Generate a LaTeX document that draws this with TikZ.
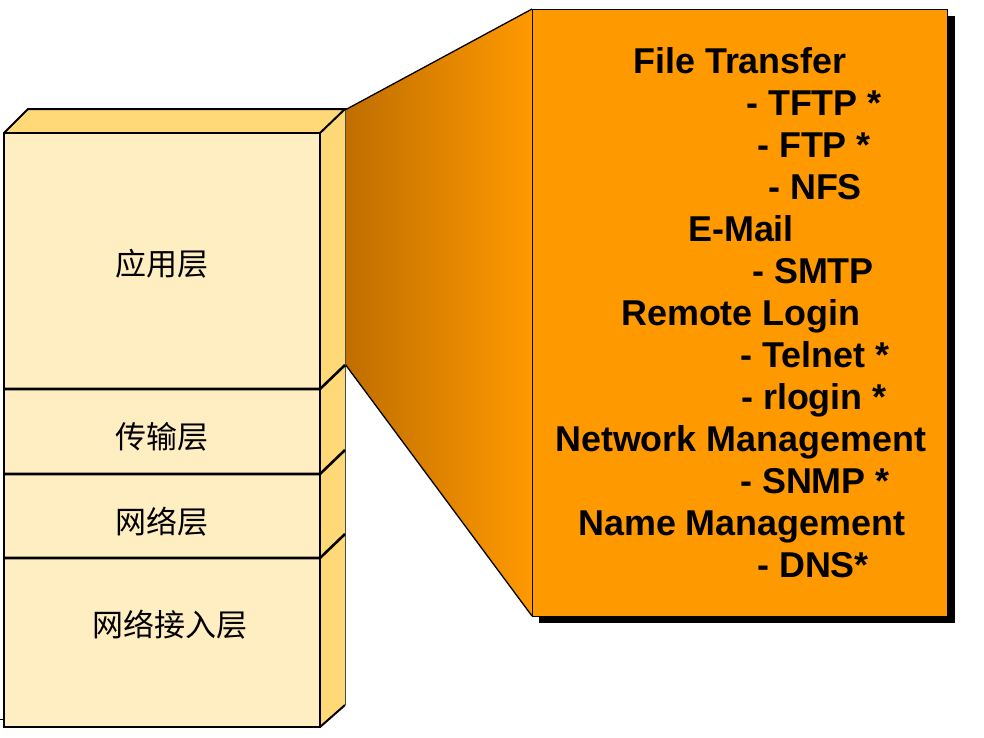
\documentclass[tikz,border=0pt]{standalone}
\usepackage{fontspec}
\setmainfont{Liberation Sans}
\newfontfamily\cjk{Noto Sans CJK SC}
\definecolor{frontc}{HTML}{FFEEC2}
\definecolor{sidec}{HTML}{FFD977}
\definecolor{orng}{HTML}{FF9900}
\definecolor{darkorng}{HTML}{BF6E00}
\tikzset{
  item/.style={anchor=base west, inner sep=0pt, font=\fontsize{35.9}{40}\selectfont\bfseries},
  layertext/.style={anchor=center, inner sep=0pt, font=\cjk\fontsize{31}{36}\selectfont},
  outline/.style={draw=black, line width=2pt, line join=miter},
  divider/.style={draw=black, line width=2.6pt},
}
\begin{document}
\begin{tikzpicture}[x=1pt,y=-1pt]
\useasboundingbox (0,0) rectangle (984,737);
% funnel
\coordinate (ft) at (345,110);
\coordinate (fb) at (345,364);
\coordinate (bt) at (532,9);
\coordinate (bb) at (532,616);
\shade[left color=darkorng, right color=orng] (ft) -- (bt) -- (bb) -- (fb) -- cycle;
\draw[line width=1.3pt] (ft) -- (bt);
\draw[line width=1.3pt] (fb) -- (bb);
% orange box with shadow
\fill[black] (539,16) rectangle (955,623);
\node[draw=black, line width=1pt, fill=orng, minimum width=415pt, minimum height=607pt, inner sep=0pt, anchor=north west] (box) at (532,9) {};
% stack
\coordinate (a) at (4,133);
\coordinate (b) at (320,133);
\coordinate (c) at (320,727);
\coordinate (d) at (4,727);
\coordinate (bl) at (28,109);
\coordinate (br) at (345,109);
\coordinate (sb) at (345,705);
\fill[sidec] (a) -- (bl) -- (br) -- (b) -- cycle;
\fill[sidec] (b) -- (br) -- (sb) -- (c) -- cycle;
\draw[line width=1pt, draw=black!70] (br) -- (sb);
\fill[frontc] (a) rectangle (c);
\draw[outline] (c) -- (sb);
\draw[outline] (a) -- (bl) -- (br) -- (b);
\draw[outline] (a) -- (b) -- (c) -- (d) -- cycle;
% dividers
\foreach \y in {389,474,558} {
  \draw[divider] (4,\y) -- (320,\y) -- (345,\y-24);
}
\draw[line width=0.8pt] (0,719) -- (4,719);
% layer labels
\node[layertext] (l1) at (162,264) {应用层};
\node[layertext] (l2) at (162,437) {传输层};
\node[layertext] (l3) at (162,522) {网络层};
\node[layertext] (l4) at (170,625) {网络接入层};
% protocol list
\node[item] (t1) at (633,73) {File Transfer};
\node[item] (t2) at (746,115) {- TFTP *};
\node[item] (t3) at (757,157) {- FTP *};
\node[item] (t4) at (768,199) {- NFS};
\node[item] (t5) at (688,241) {E-Mail};
\node[item] (t6) at (752,283) {- SMTP};
\node[item] (t7) at (621,325) {Remote Login};
\node[item] (t8) at (740,367) {- Telnet *};
\node[item] (t9) at (741,409) {- rlogin *};
\node[item] (t10) at (555,451) {Network Management};
\node[item] (t11) at (740,493) {- SNMP *};
\node[item] (t12) at (578,535) {Name Management};
\node[item] (t13) at (757,577) {- DNS*};
\end{tikzpicture}
\end{document}
